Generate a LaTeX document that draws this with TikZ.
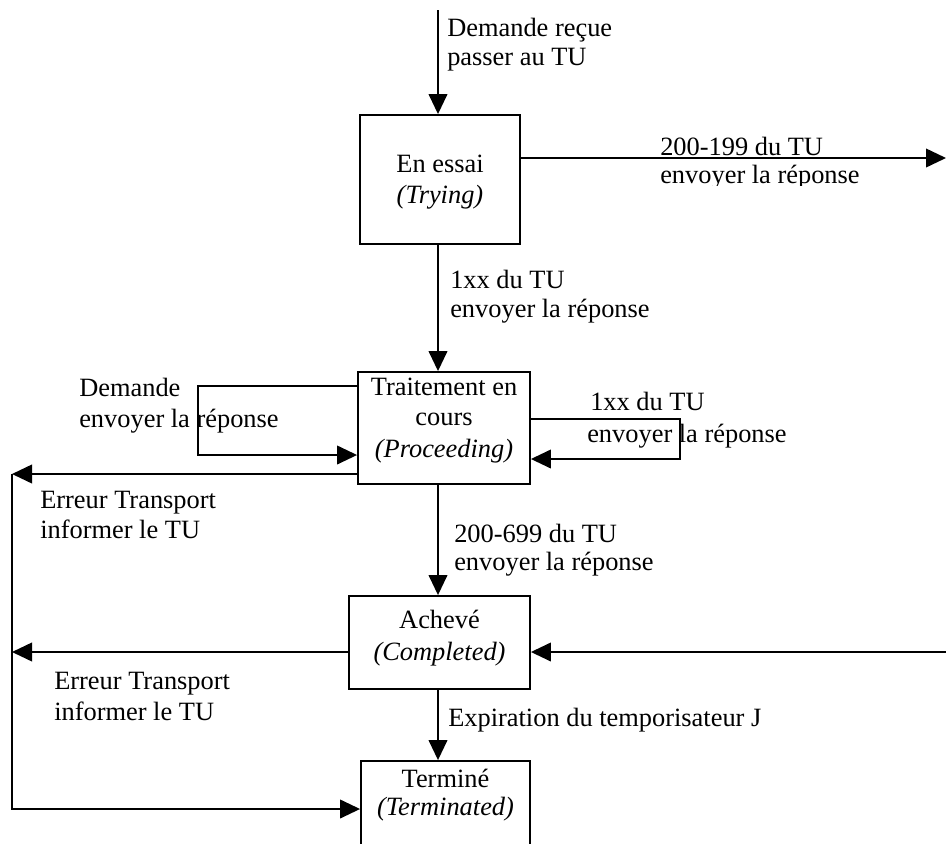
\documentclass[tikz,border=0pt]{standalone}
\usepackage{fontspec}
\setmainfont{Liberation Serif}
\usetikzlibrary{arrows.meta,fit}
\tikzset{
 lbl/.style={anchor=base west, inner sep=0pt, font=\fontsize{19.8}{23}\selectfont},
 btxt/.style={anchor=base, inner sep=0pt, font=\fontsize{19.8}{23}\selectfont},
 statebox/.style={draw, line width=1.4pt, inner sep=0pt},
 conn/.style={line width=1.3pt, -{Triangle[length=15pt,width=14pt]}},
}
\begin{document}
\begin{tikzpicture}[x=0.75pt,y=-0.75pt]
\useasboundingbox (0,0) rectangle (946,843);

% state boxes
\node[statebox, fit={(360,115) (520,244)}] (trying) {};
\node[statebox, fit={(358,372) (530,484)}] (proc) {};
\node[statebox, fit={(349,596) (530,689)}] (ach) {};
\node[statebox, fit={(361,761) (530,880)}] (term) {};

% box texts
\node[btxt] (t1a) at (440,172) {En essai};
\node[btxt] (t1b) at (440,203) {\textit{(Trying)}};
\node[btxt] (t2a) at (444,395) {Traitement en};
\node[btxt] (t2b) at (444,425) {cours};
\node[btxt] (t2c) at (444,457) {\textit{(Proceeding)}};
\node[btxt] (t3a) at (439.5,628) {Achevé};
\node[btxt] (t3b) at (439.5,660) {\textit{(Completed)}};
\node[btxt] (t4a) at (445.5,787) {Terminé};
\node[btxt] (t4b) at (445.5,815) {\textit{(Terminated)}};

% coordinates
\coordinate (mx) at (438,0);
\coordinate (topin) at (438,10);
\coordinate (tr) at (946,158);
\coordinate (la) at (198,386);
\coordinate (lb) at (198,455);
\coordinate (ra) at (680,419);
\coordinate (rb) at (680,459);
\coordinate (e1) at (12,474);
\coordinate (e2) at (12,652);
\coordinate (e3) at (12,809);
\coordinate (ci) at (946,652);

% connectors
\draw[conn] (topin) -- (topin |- trying.north);
\draw[conn] (trying.east |- tr) -- (tr);
\draw[conn] (trying.south -| mx) -- (proc.north -| mx);
\draw[conn] (proc.west |- la) -- (la) -- (lb) -- (proc.west |- lb);
\draw[conn] (proc.east |- ra) -- (ra) -- (rb) -- (proc.east |- rb);
\draw[conn] (proc.west |- e1) -- (e1);
\draw[conn] (proc.south -| mx) -- (ach.north -| mx);
\draw[conn] (ach.west |- e2) -- (e2);
\draw[conn] (ci) -- (ach.east |- ci);
\draw[conn] (ach.south -| mx) -- (term.north -| mx);
\draw[conn] (e1) -- (e3) -- (term.west |- e3);

% labels
\node[lbl] (l1a) at (447,36) {Demande reçue};
\node[lbl] (l1b) at (447,65) {passer au TU};
\node[lbl] (l2a) at (660,155) {200-199 du TU};
\begin{scope}
\clip (600,140) rectangle (946,185.5);
\node[lbl] (l2b) at (660,183) {envoyer la réponse};
\end{scope}
\node[lbl] (l3a) at (450,288) {1xx du TU};
\node[lbl] (l3b) at (450,317) {envoyer la réponse};
\node[lbl] (l4a) at (79,396) {Demande};
\node[lbl] (l4b) at (79,427) {envoyer la réponse};
\node[lbl] (l5a) at (590,410) {1xx du TU};
\node[lbl] (l5b) at (587,442) {envoyer la réponse};
\node[lbl] (l6a) at (40,508) {Erreur Transport};
\node[lbl] (l6b) at (40,538) {informer le TU};
\node[lbl] (l7a) at (454,542) {200-699 du TU};
\node[lbl] (l7b) at (454,570) {envoyer la réponse};
\node[lbl] (l8a) at (54,689) {Erreur Transport};
\node[lbl] (l8b) at (54,720) {informer le TU};
\node[lbl] (l9) at (448,726) {Expiration du temporisateur J};
\end{tikzpicture}
\end{document}
